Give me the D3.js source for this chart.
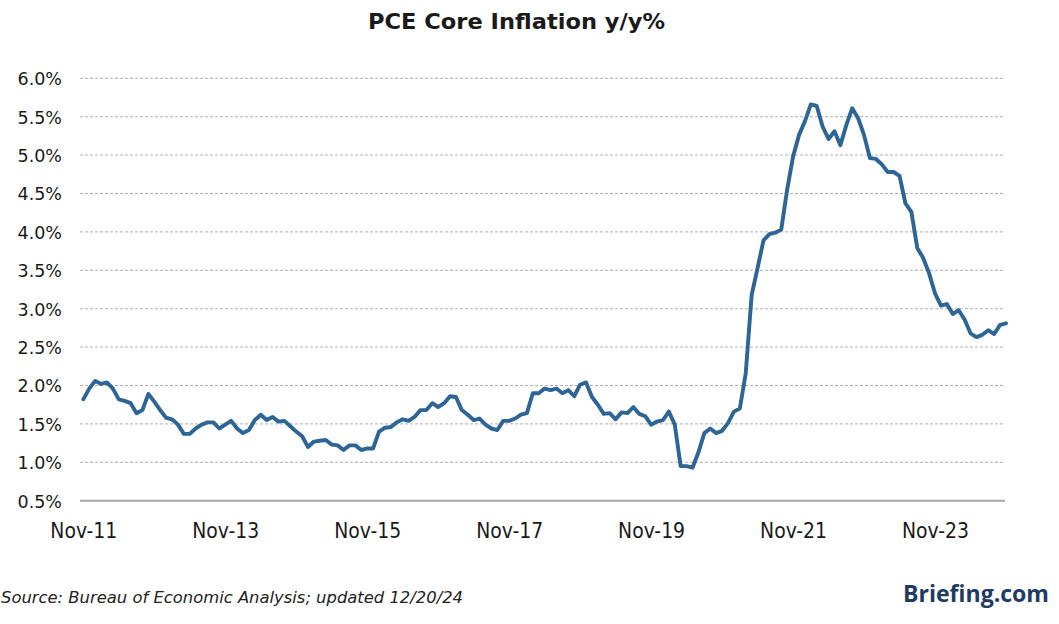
<!DOCTYPE html>
<html>
<head>
<meta charset="utf-8">
<script src="https://cdn.jsdelivr.net/npm/d3@7"></script>
<style>
  html, body { margin: 0; padding: 0; background: #fff; }
  svg { display: block; }
</style>
</head>
<body>
<svg id="chart" width="1059" height="624"></svg>
<script>
// ---- Data (monthly, Nov 2011 .. Nov 2024) ----
const startLabel = "Nov-11";
const coreValues = [
  1.82,1.96,2.06,2.02,2.04,1.96,1.82,1.80,1.77,1.64,1.68,1.89,
  1.79,1.68,1.58,1.56,1.49,1.37,1.37,1.44,1.49,1.52,1.52,1.44,
  1.49,1.54,1.44,1.38,1.42,1.55,1.62,1.55,1.59,1.53,1.54,1.47,
  1.40,1.34,1.20,1.27,1.28,1.29,1.23,1.22,1.16,1.22,1.22,1.16,
  1.18,1.18,1.40,1.45,1.46,1.52,1.56,1.54,1.59,1.68,1.68,1.77,
  1.72,1.77,1.86,1.85,1.68,1.62,1.55,1.57,1.49,1.44,1.42,1.54,
  1.54,1.57,1.62,1.64,1.90,1.90,1.96,1.94,1.96,1.90,1.94,1.86,
  2.01,2.04,1.85,1.75,1.63,1.64,1.56,1.65,1.64,1.72,1.63,1.60,
  1.49,1.53,1.55,1.66,1.49,0.95,0.95,0.93,1.13,1.38,1.44,1.38,
  1.41,1.51,1.66,1.70,2.16,3.18,3.53,3.89,3.97,3.99,4.03,4.55,
  4.98,5.26,5.44,5.66,5.64,5.37,5.21,5.31,5.13,5.39,5.61,5.48,
  5.26,4.96,4.95,4.88,4.78,4.78,4.73,4.37,4.26,3.79,3.66,3.46,
  3.20,3.04,3.06,2.93,2.98,2.86,2.68,2.63,2.66,2.72,2.67,2.79,
  2.81
];
const xTickIndex = [0, 24, 48, 72, 96, 120, 144];
const xTickLabels = ["Nov-11","Nov-13","Nov-15","Nov-17","Nov-19","Nov-21","Nov-23"];
const yTickValues = [0.5,1.0,1.5,2.0,2.5,3.0,3.5,4.0,4.5,5.0,5.5,6.0];
const titleText = "PCE Core Inflation y/y%";
const sourceText = "Source: Bureau of Economic Analysis; updated 12/20/24";
const brandText = "Briefing.com";

// ---- Layout ----
const svg = d3.select("#chart");
const plotLeft = 80, plotRight = 1005;
const x = d3.scaleLinear().domain([0, coreValues.length - 1]).range([83.3, 1006]);
const y = d3.scaleLinear().domain([0.5, 6.0]).range([500.7, 78.3]);

// Title
svg.append("text")
  .attr("x", 368).attr("y", 29)
  .attr("textLength", 297).attr("lengthAdjust", "spacingAndGlyphs")
  .style("font-family", "'DejaVu Sans', sans-serif")
  .style("font-weight", "bold")
  .style("font-size", "22px")
  .style("fill", "#1a1a1a")
  .text(titleText);

// Gridlines
svg.append("g").selectAll("line")
  .data(yTickValues.filter(v => v > 0.5))
  .join("line")
  .attr("x1", plotLeft).attr("x2", plotRight)
  .attr("y1", d => y(d)).attr("y2", d => y(d))
  .attr("stroke", "#b0b0b0").attr("stroke-width", 1)
  .attr("stroke-dasharray", "3,2");

// Bottom axis line
svg.append("line")
  .attr("x1", plotLeft).attr("x2", plotRight)
  .attr("y1", y(0.5)).attr("y2", y(0.5))
  .attr("stroke", "#a6a6a6").attr("stroke-width", 2);

// Y axis labels via d3.axisLeft
const yAxis = d3.axisLeft(y).tickValues(yTickValues)
  .tickFormat(d => d3.format(".1f")(d) + "%")
  .tickSize(0).tickPadding(0);
const yg = svg.append("g").attr("transform", "translate(62,0)").call(yAxis);
yg.select(".domain").remove();
yg.selectAll("text")
  .attr("dy", "0.36em")
  .style("font-family", "'DejaVu Sans', sans-serif")
  .style("font-size", "17.5px")
  .style("fill", "#1a1a1a");

// X axis labels
const xAxis = d3.axisBottom(x).tickValues(xTickIndex)
  .tickFormat((d, i) => xTickLabels[i])
  .tickSize(0).tickPadding(0);
const xg = svg.append("g").attr("transform", "translate(0,522)").call(xAxis);
xg.select(".domain").remove();
xg.selectAll("text")
  .attr("dy", "0.78em")
  .attr("textLength", 67).attr("lengthAdjust", "spacingAndGlyphs")
  .style("font-family", "'DejaVu Sans', sans-serif")
  .style("font-size", "21px")
  .style("fill", "#1a1a1a");

// Line
const line = d3.line()
  .x((d, i) => x(i))
  .y(d => y(d));
svg.append("path")
  .datum(coreValues)
  .attr("d", line)
  .attr("fill", "none")
  .attr("stroke", "#2d6596")
  .attr("stroke-width", 3.9)
  .attr("stroke-linejoin", "round")
  .attr("stroke-linecap", "round");

// Source
svg.append("text")
  .attr("x", 1).attr("y", 603)
  .attr("textLength", 462).attr("lengthAdjust", "spacingAndGlyphs")
  .style("font-family", "'DejaVu Sans', sans-serif")
  .style("font-style", "italic")
  .style("font-size", "16px")
  .style("fill", "#222")
  .text(sourceText);

// Brand
svg.append("text")
  .attr("x", 903).attr("y", 602)
  .attr("textLength", 146).attr("lengthAdjust", "spacingAndGlyphs")
  .style("font-family", "'Open Sans', sans-serif")
  .style("font-weight", "bold")
  .style("font-size", "24px")
  .style("fill", "#1f3a63")
  .text(brandText);
</script>
</body>
</html>
